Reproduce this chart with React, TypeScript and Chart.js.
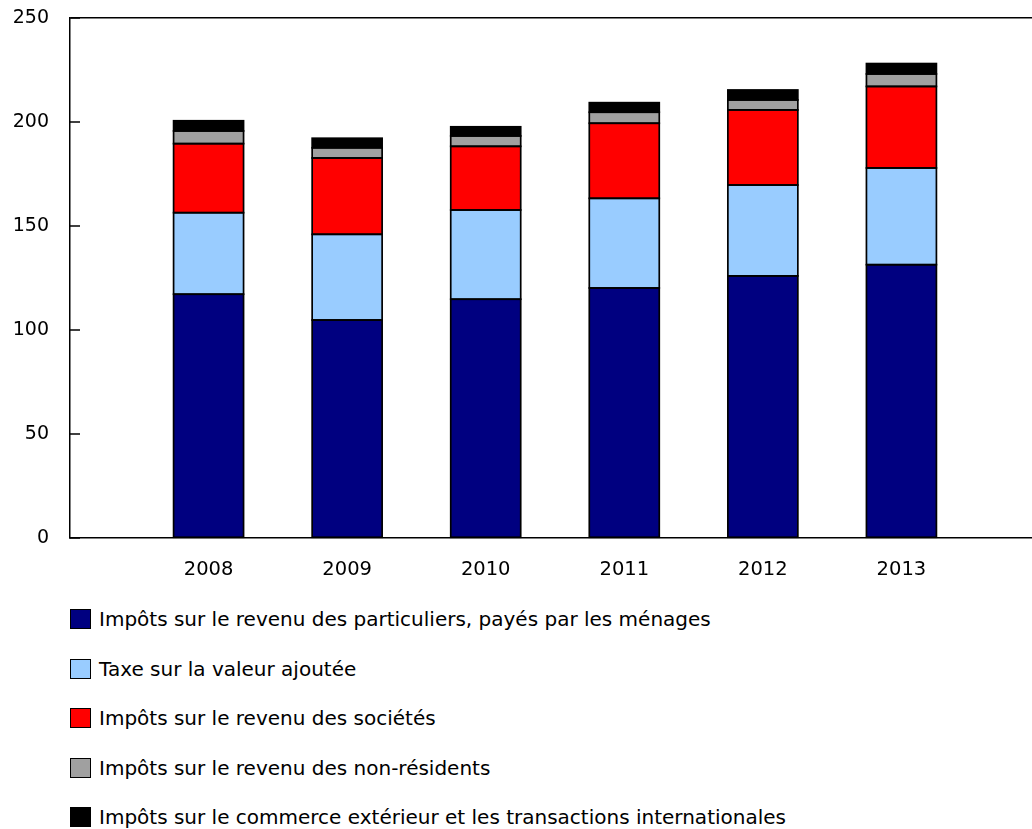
import React, { useEffect, useRef } from "react";
import { Chart, registerables } from "chart.js";

Chart.register(...registerables);

// ---- Data (values in billions) ----
const years = ["2008", "2009", "2010", "2011", "2012", "2013"];
const menages = [117.2, 104.8, 114.8, 120.2, 126.0, 131.4];
const tva = [39.2, 41.2, 42.9, 43.1, 43.7, 46.5];
const societes = [33.2, 36.7, 30.6, 36.1, 36.1, 39.2];
const nonResidents = [6.1, 4.9, 5.0, 5.3, 4.8, 6.0];
const commerce = [4.9, 4.6, 4.4, 4.6, 4.8, 5.0];
const yTicks = [0, 50, 100, 150, 200, 250];

const seriesNames = [
  "Impôts sur le revenu des particuliers, payés par les ménages",
  "Taxe sur la valeur ajoutée",
  "Impôts sur le revenu des sociétés",
  "Impôts sur le revenu des non-résidents",
  "Impôts sur le commerce extérieur et les transactions internationales",
];
const seriesValues = [menages, tva, societes, nonResidents, commerce];
const seriesColors = ["#000080", "#99CCFF", "#FF0000", "#A0A0A0", "#000000"];

const FONT = "'DejaVu Sans', Verdana, sans-serif";

const innerTicks = {
  id: "innerTicks",
  afterDraw(chart: any) {
    const y = chart.scales.y;
    const left = chart.chartArea.left;
    const ctx = chart.ctx;
    ctx.save();
    ctx.strokeStyle = "#000";
    ctx.lineWidth = 1.5;
    yTicks.forEach((v) => {
      const py = y.getPixelForValue(v);
      ctx.beginPath();
      ctx.moveTo(left, py);
      ctx.lineTo(left + 10, py);
      ctx.stroke();
    });
    ctx.restore();
  },
};

// Outline every bar segment (using the library's computed bar geometry)
const barOutlines = {
  id: "barOutlines",
  afterDatasetsDraw(chart: any) {
    const ctx = chart.ctx;
    ctx.save();
    ctx.strokeStyle = "#000";
    ctx.lineWidth = 1.7;
    chart.data.datasets.forEach((_: any, di: number) => {
      const meta = chart.getDatasetMeta(di);
      meta.data.forEach((bar: any, idx: number) => {
        const v = chart.data.datasets[di].data[idx];
        if (v === null || v === undefined) return;
        const p = bar.getProps(["x", "y", "base", "width"], true);
        const left = p.x - p.width / 2;
        const top = Math.min(p.y, p.base);
        const h = Math.abs(p.base - p.y);
        ctx.strokeRect(left, top, p.width, h);
      });
    });
    ctx.restore();
  },
};

export default function App() {
  const canvasRef = useRef<HTMLCanvasElement | null>(null);

  useEffect(() => {
    document.body.style.margin = "0";
    document.body.style.overflow = "hidden";
    document.documentElement.style.overflow = "hidden";
    const canvas = canvasRef.current;
    if (!canvas) return;
    const labels = ["", ...years, ""];
    const chart = new Chart(canvas, {
      type: "bar",
      data: {
        labels,
        datasets: seriesValues.map((vals, i) => ({
          label: seriesNames[i],
          data: [null, ...vals, null] as any,
          backgroundColor: seriesColors[i],
          borderWidth: 0,
          inflateAmount: 0,
          categoryPercentage: 1,
          barPercentage: 0.505,
        })),
      },
      options: {
        animation: false,
        responsive: false,
        maintainAspectRatio: false,
        layout: { padding: { top: 18, right: 0, left: 0, bottom: 0 } },
        plugins: {
          legend: { display: false },
          tooltip: { enabled: false },
        },
        scales: {
          x: {
            stacked: true,
            offset: false,
            grid: { display: false, drawTicks: false },
            border: { color: "#000", width: 1.5 },
            ticks: {
              color: "#000",
              font: { family: FONT, size: 19.5 },
              padding: 20,
              autoSkip: false,
              maxRotation: 0,
            },
            afterFit: (s: any) => {
              s.height = 62;
              s.paddingLeft = 0;
              s.paddingRight = 0;
            },
          },
          y: {
            stacked: true,
            min: 0,
            max: 250,
            afterBuildTicks: (s: any) => {
              s.ticks = yTicks.map((v) => ({ value: v }));
            },
            ticks: {
              color: "#000",
              font: { family: FONT, size: 19 },
              padding: 21,
            },
            grid: {
              drawTicks: false,
              color: (ctx: any) => (ctx.tick && ctx.tick.value === 250 ? "#000" : "rgba(0,0,0,0)"),
              lineWidth: 1.5,
            },
            border: { color: "#000", width: 1.5 },
            afterFit: (s: any) => {
              s.width = 70;
              s.paddingTop = 0;
              s.paddingBottom = 0;
            },
          },
        },
      },
      plugins: [barOutlines, innerTicks],
    });
    return () => chart.destroy();
  }, []);

  return (
    <div
      style={{
        position: "relative",
        width: 1032,
        height: 829,
        overflow: "hidden",
        background: "#fff",
      }}
    >
      <canvas
        ref={canvasRef}
        width={1040}
        height={600}
        style={{ position: "absolute", left: 0, top: 0, width: 1040, height: 600 }}
      />
      {seriesNames.map((name, i) => (
        <div
          key={name}
          style={{
            position: "absolute",
            left: 70,
            top: 609 + i * 49.5,
            height: 20,
            display: "flex",
            alignItems: "center",
            whiteSpace: "nowrap",
            fontFamily: FONT,
            fontSize: 20,
            color: "#000",
          }}
        >
          <span
            style={{
              display: "inline-block",
              width: 19,
              height: 18,
              background: seriesColors[i],
              border: "1px solid #000",
              marginRight: 8,
            }}
          />
          <span>{name}</span>
        </div>
      ))}
    </div>
  );
}
